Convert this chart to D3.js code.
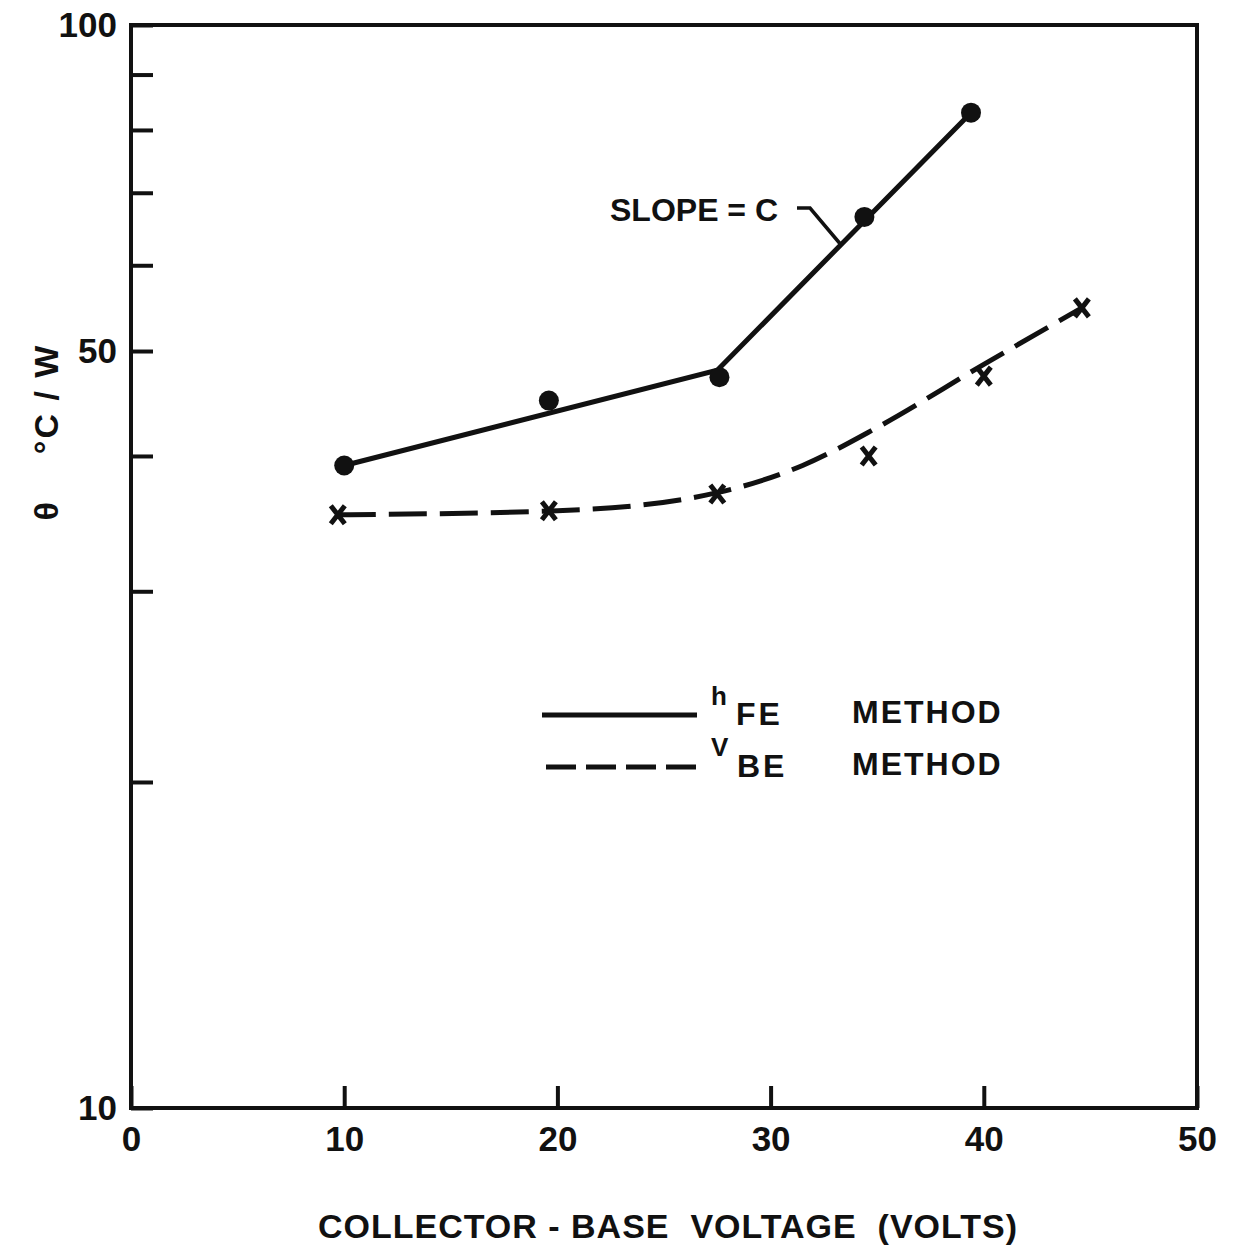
<!DOCTYPE html>
<html>
<head>
<meta charset="utf-8">
<script src="https://cdn.jsdelivr.net/npm/d3@7"></script>
<style>
  body { margin: 0; background: #fff; }
  text { font-family: "Liberation Sans", "DejaVu Sans", sans-serif; font-weight: bold; fill: #111; white-space: pre; }
</style>
</head>
<body>
<svg id="chart"></svg>
<script>
// measured points, hFE method (dots)
let hfeX = [10, 19.6, 27.6, 34.4, 39.4];
let hfeY = [39.2, 45, 47.3, 66.5, 83];
// straight-line fit drawn through hFE points
let hfeFitX = [10, 27.5, 39.4];
let hfeFitY = [39.2, 48, 83];

// measured points, VBE method (crosses)
let vbeX = [9.7, 19.6, 27.5, 34.6, 40, 44.6];
let vbeY = [35.3, 35.6, 36.9, 40, 47.4, 54.8];
// smooth curve drawn through VBE points
let vbeFitX = [9.7, 20, 27.5, 31.5, 35, 40, 44.6];
let vbeFitY = [35.3, 35.6, 37, 39.2, 42.5, 48.6, 54.8];

let xTicks = [0, 10, 20, 30, 40, 50];
let yTicks = [10, 20, 30, 40, 50, 60, 70, 80, 90, 100];
let yLabels = [10, 50, 100];

let svg = d3.select("#chart")
    .attr("width", 1238)
    .attr("height", 1252);

let x = d3.scaleLinear().domain([0, 50]).range([131, 1197]);
let y = d3.scaleLog().domain([10, 100]).range([1108, 25]);

// frame
svg.append("rect")
    .attr("x", x(0))
    .attr("y", y(100))
    .attr("width", x(50) - x(0))
    .attr("height", y(10) - y(100))
    .attr("fill", "none")
    .attr("stroke", "#111")
    .attr("stroke-width", 4);

// y axis, ticks pointing inward
let yAxis = svg.append("g")
    .attr("transform", "translate(" + x(0) + ",0)")
    .call(d3.axisLeft(y)
        .tickValues(yTicks)
        .tickSize(-22)
        .tickPadding(14)
        .tickFormat(d => yLabels.includes(d) ? d : ""));
yAxis.select(".domain").remove();
yAxis.selectAll("line").attr("stroke", "#111").attr("stroke-width", 4);
yAxis.selectAll("text")
    .style("font-size", "35px")
    .style("font-family", "Liberation Sans, sans-serif")
    .style("font-weight", "bold")
    .attr("fill", "#111");

// x axis, ticks pointing up
let xAxis = svg.append("g")
    .attr("transform", "translate(0," + y(10) + ")")
    .call(d3.axisBottom(x)
        .tickValues(xTicks)
        .tickSize(-22)
        .tickPadding(18)
        .tickFormat(d => d));
xAxis.select(".domain").remove();
xAxis.selectAll("line").attr("stroke", "#111").attr("stroke-width", 4);
xAxis.selectAll("text")
    .style("font-size", "35px")
    .style("font-family", "Liberation Sans, sans-serif")
    .style("font-weight", "bold")
    .attr("fill", "#111");

let line = d3.line()
    .x(d => x(d[0]))
    .y(d => y(d[1]));

// hFE fit line
svg.append("path")
    .datum(d3.zip(hfeFitX, hfeFitY))
    .attr("d", line)
    .attr("fill", "none")
    .attr("stroke", "#111")
    .attr("stroke-width", 5);

svg.selectAll(".dot")
    .data(d3.zip(hfeX, hfeY))
    .join("circle")
    .attr("class", "dot")
    .attr("cx", d => x(d[0]))
    .attr("cy", d => y(d[1]))
    .attr("r", 10)
    .attr("fill", "#111");

// VBE curve
svg.append("path")
    .datum(d3.zip(vbeFitX, vbeFitY))
    .attr("d", line.curve(d3.curveMonotoneX))
    .attr("fill", "none")
    .attr("stroke", "#111")
    .attr("stroke-width", 5)
    .attr("stroke-dasharray", "38,13");

svg.selectAll(".cross")
    .data(d3.zip(vbeX, vbeY))
    .join("path")
    .attr("class", "cross")
    .attr("transform", d => "translate(" + x(d[0]) + "," + y(d[1]) + ")")
    .attr("d", "M-7,-9L7,9M7,-9L-7,9")
    .attr("fill", "none")
    .attr("stroke", "#111")
    .attr("stroke-width", 5);

// slope annotation
svg.append("text")
    .attr("x", 610)
    .attr("y", 221)
    .style("font-size", "32px")
    .text("SLOPE = C");
svg.append("path")
    .attr("d", "M797,208 L810,208 L842,246")
    .attr("fill", "none")
    .attr("stroke", "#111")
    .attr("stroke-width", 3.5);

// legend
svg.append("line")
    .attr("x1", 542).attr("x2", 697)
    .attr("y1", 715).attr("y2", 715)
    .attr("stroke", "#111")
    .attr("stroke-width", 5);
svg.append("line")
    .attr("x1", 546).attr("x2", 697)
    .attr("y1", 767).attr("y2", 767)
    .attr("stroke", "#111")
    .attr("stroke-width", 5)
    .attr("stroke-dasharray", "30,10");

svg.append("text").attr("x", 711).attr("y", 705).style("font-size", "26px").text("h");
svg.append("text").attr("x", 736).attr("y", 725).style("font-size", "32px").style("letter-spacing", "3px").text("FE");
svg.append("text").attr("x", 852).attr("y", 723).style("font-size", "32px").style("letter-spacing", "2px").text("METHOD");
svg.append("text").attr("x", 711).attr("y", 756).style("font-size", "26px").text("V");
svg.append("text").attr("x", 737).attr("y", 777).style("font-size", "32px").style("letter-spacing", "3px").text("BE");
svg.append("text").attr("x", 852).attr("y", 775).style("font-size", "32px").style("letter-spacing", "2px").text("METHOD");

// axis titles
svg.append("text")
    .attr("x", 668)
    .attr("y", 1238)
    .attr("text-anchor", "middle")
    .style("font-size", "34px")
    .style("letter-spacing", "1px")
    .text("COLLECTOR - BASE  VOLTAGE  (VOLTS)");

svg.append("text")
    .attr("transform", "translate(58,432) rotate(-90)")
    .attr("text-anchor", "middle")
    .style("font-size", "34px")
    .style("letter-spacing", "2px")
    .text("θ    °C / W");
</script>
</body>
</html>
